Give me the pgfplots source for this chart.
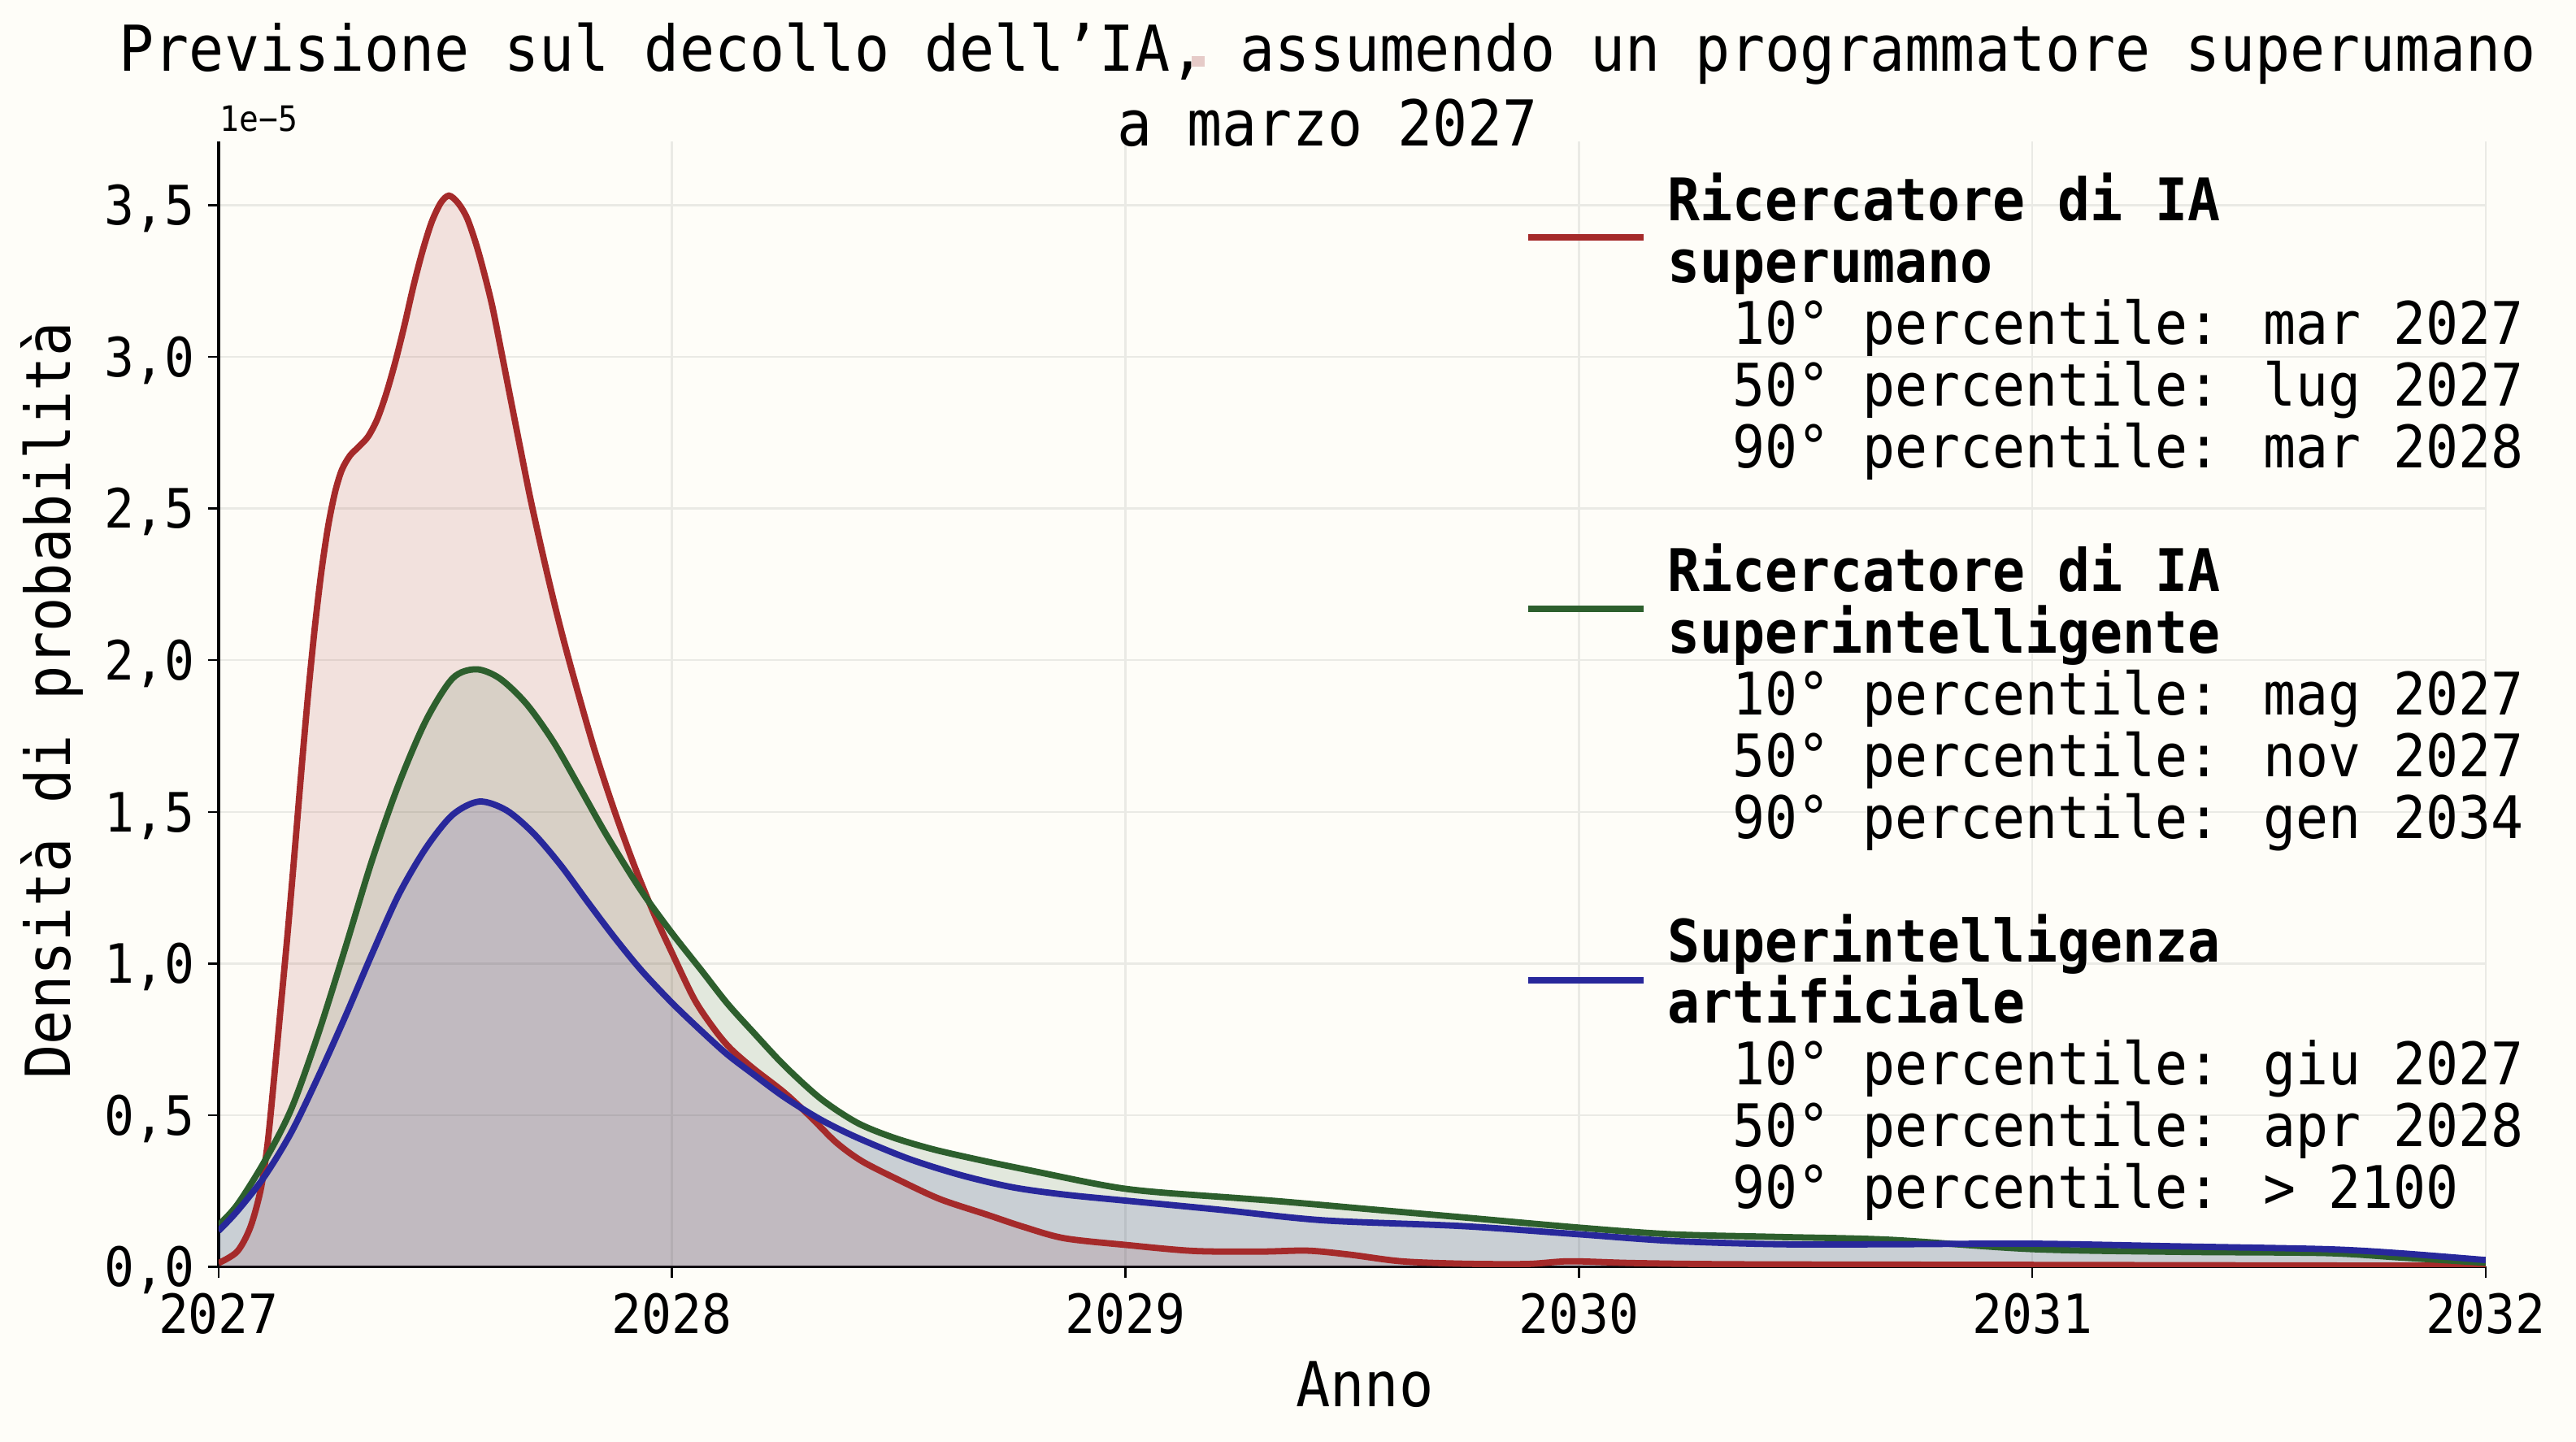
\documentclass[border=0pt]{standalone}
\usepackage{fontspec}
\setmainfont{DejaVu Sans Mono}[FakeStretch=0.92]
\usepackage{pgfplots}
\pgfplotsset{compat=1.18}
\usepackage{pgfplotstable}
\definecolor{bg}{HTML}{FEFDF8}
\definecolor{cred}{HTML}{A52A2A}
\definecolor{cgreen}{HTML}{2D5F2D}
\definecolor{cblue}{HTML}{28289B}
\definecolor{gridc}{HTML}{EAEAE5}
\definecolor{pinkm}{HTML}{E6CBC8}

\pgfplotstableread{
x y
2027.000 0.012
2027.041 0.050
2027.070 0.130
2027.093 0.255
2027.108 0.405
2027.122 0.615
2027.137 0.855
2027.152 1.095
2027.167 1.355
2027.182 1.625
2027.197 1.880
2027.212 2.105
2027.227 2.295
2027.242 2.445
2027.257 2.555
2027.272 2.628
2027.290 2.675
2027.310 2.705
2027.330 2.738
2027.350 2.795
2027.370 2.880
2027.390 2.985
2027.410 3.105
2027.430 3.235
2027.450 3.350
2027.470 3.445
2027.490 3.508
2027.508 3.532
2027.528 3.508
2027.548 3.458
2027.568 3.372
2027.586 3.275
2027.604 3.165
2027.624 3.015
2027.644 2.862
2027.664 2.710
2027.686 2.545
2027.708 2.395
2027.732 2.240
2027.756 2.095
2027.783 1.945
2027.828 1.710
2027.872 1.508
2027.917 1.322
2027.960 1.165
2028.000 1.035
2028.050 0.880
2028.095 0.780
2028.130 0.718
2028.180 0.653
2028.248 0.574
2028.305 0.495
2028.362 0.410
2028.419 0.348
2028.499 0.287
2028.591 0.223
2028.694 0.172
2028.774 0.132
2028.865 0.094
2029.000 0.072
2029.151 0.052
2029.300 0.050
2029.402 0.053
2029.494 0.040
2029.608 0.018
2029.743 0.010
2029.885 0.009
2029.980 0.018
2030.125 0.012
2030.365 0.008
2031.000 0.006
2032.000 0.003
}\redtab

\pgfplotstableread{
x y
2027.000 0.137
2027.041 0.204
2027.100 0.344
2027.160 0.519
2027.219 0.764
2027.278 1.044
2027.338 1.338
2027.397 1.590
2027.457 1.800
2027.516 1.940
2027.568 1.970
2027.620 1.940
2027.679 1.856
2027.739 1.730
2027.798 1.576
2027.857 1.420
2027.932 1.240
2028.000 1.100
2028.065 0.977
2028.122 0.868
2028.180 0.772
2028.248 0.663
2028.328 0.554
2028.408 0.475
2028.488 0.426
2028.579 0.386
2028.694 0.347
2028.808 0.312
2028.922 0.277
2029.000 0.257
2029.094 0.243
2029.322 0.218
2029.551 0.188
2029.743 0.163
2030.000 0.129
2030.205 0.107
2030.445 0.098
2030.685 0.089
2031.000 0.058
2031.326 0.049
2031.646 0.045
2031.806 0.031
2032.000 0.013
}\greentab

\pgfplotstableread{
x y
2027.000 0.118
2027.041 0.183
2027.100 0.295
2027.160 0.442
2027.219 0.624
2027.278 0.820
2027.338 1.030
2027.397 1.226
2027.457 1.380
2027.516 1.490
2027.575 1.534
2027.635 1.505
2027.694 1.430
2027.754 1.325
2027.813 1.205
2027.872 1.088
2027.932 0.978
2028.000 0.870
2028.065 0.777
2028.122 0.700
2028.180 0.634
2028.248 0.559
2028.328 0.485
2028.408 0.426
2028.522 0.356
2028.637 0.302
2028.751 0.262
2028.865 0.238
2029.000 0.218
2029.208 0.188
2029.437 0.153
2029.743 0.134
2030.000 0.107
2030.205 0.085
2030.445 0.074
2030.685 0.074
2031.000 0.076
2031.326 0.067
2031.646 0.058
2031.806 0.045
2032.000 0.022
}\bluetab

\begin{document}
\begin{tikzpicture}
\useasboundingbox (-96.8pt,-77.6pt) rectangle (1044pt,561pt);
\fill[bg] (-96.8pt,-77.6pt) rectangle (1044pt,561pt);
\begin{axis}[
  width=1004.1pt, height=498.4pt, scale only axis,
  xmin=2027, xmax=2032, ymin=0, ymax=3.711,
  axis lines=left,
  axis line style={-, line width=1.2pt, black},
  tick align=outside,
  major tick length=4.8pt,
  every tick/.style={line width=0.9pt, black},
  xtick={2027,2028,2029,2030,2031,2032},
  ytick={0,0.5,1,1.5,2,2.5,3,3.5},
  scaled y ticks=false,
  grid=major,
  major grid style={gridc, line width=0.9pt},
  no markers,
  /pgf/number format/assume math mode=true,
  tick label style={font=\fontsize{24}{24}\selectfont},
  xticklabel style={anchor=north, inner sep=0pt, text height=17.5pt, text depth=0pt, yshift=-7.1pt,
    /pgf/number format/1000 sep={}},
  yticklabel style={anchor=east, inner sep=0pt, text height=17.5pt, text depth=0pt, xshift=-5.6pt,
    /pgf/number format/.cd, fixed, fixed zerofill, precision=1, use comma},
]
\addplot[draw=none, fill=cred, fill opacity=0.13, smooth] table[x=x,y=y] {\redtab} \closedcycle;
\addplot[draw=none, fill=cgreen, fill opacity=0.13, smooth] table[x=x,y=y] {\greentab} \closedcycle;
\addplot[draw=none, fill=cblue, fill opacity=0.13, smooth] table[x=x,y=y] {\bluetab} \closedcycle;
\addplot[cred, line width=2.8pt, smooth] table[x=x,y=y] {\redtab};
\addplot[cgreen, line width=2.8pt, smooth] table[x=x,y=y] {\greentab};
\addplot[cblue, line width=2.8pt, smooth] table[x=x,y=y] {\bluetab};
\end{axis}

% title
\node[anchor=base, inner sep=0pt, font=\fontsize{28}{28}\selectfont] at (491.1pt,529.4pt)
  {Previsione sul decollo dell’IA,\llap{\textcolor{pinkm}{\rule[2.1pt]{5.8pt}{4.7pt}}} assumendo un programmatore superumano};
\node[anchor=base, inner sep=0pt, font=\fontsize{28}{28}\selectfont] at (491.1pt,496.2pt)
  {a marzo 2027};
% offset text
\node[anchor=base west, inner sep=0pt, font=\fontsize{15.5}{15.5}\selectfont] at (0.4pt,502.8pt) {1e−5};
% axis labels
\node[anchor=base, inner sep=0pt, font=\fontsize{27.5}{27.5}\selectfont] at (507.6pt,-62.1pt) {Anno};
\node[anchor=base, rotate=90, inner sep=0pt, font=\fontsize{27.5}{27.5}\selectfont] at (-65.8pt,250.7pt) {Densità di probabilità};
% legend
\draw[cred, line width=2.8pt] (580pt,456.0pt) -- (631.2pt,456.0pt);
\draw[cgreen, line width=2.8pt] (580pt,291.4pt) -- (631.2pt,291.4pt);
\draw[cblue, line width=2.8pt] (580pt,126.9pt) -- (631.2pt,126.9pt);
\node[anchor=base west, inner sep=0pt, font=\fontsize{26}{27.34}\selectfont] at (641.5pt,463.2pt) {\vtop{%
  \hbox{\bfseries Ricercatore di IA}%
  \hbox{\bfseries superumano}%
  \hbox{\ \ 10° percentile: mar 2027}%
  \hbox{\ \ 50° percentile: lug 2027}%
  \hbox{\ \ 90° percentile: mar 2028}%
  \hbox{}%
  \hbox{\bfseries Ricercatore di IA}%
  \hbox{\bfseries superintelligente}%
  \hbox{\ \ 10° percentile: mag 2027}%
  \hbox{\ \ 50° percentile: nov 2027}%
  \hbox{\ \ 90° percentile: gen 2034}%
  \hbox{}%
  \hbox{\bfseries Superintelligenza}%
  \hbox{\bfseries artificiale}%
  \hbox{\ \ 10° percentile: giu 2027}%
  \hbox{\ \ 50° percentile: apr 2028}%
  \hbox{\ \ 90° percentile: > 2100}%
}};
\end{tikzpicture}
\end{document}
